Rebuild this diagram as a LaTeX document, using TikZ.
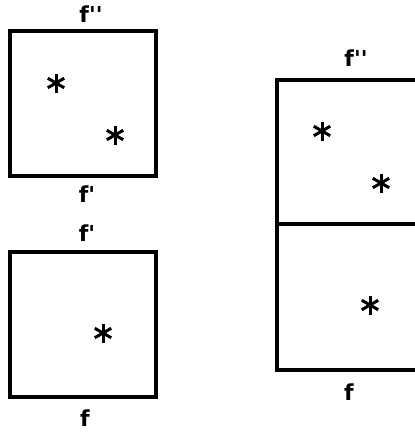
\documentclass[tikz,border=0pt]{standalone}
\usepackage{fontspec}
\newfontfamily\labelfont{DejaVu Sans}
\tikzset{
  face/.style={line width=4.8pt},
  flabel/.style={font=\labelfont\bfseries\fontsize{22}{22}\selectfont, inner sep=0pt},
  spark/.style={line width=3pt}
}
\newcommand\qq{\textquotesingle}
\begin{document}
\begin{tikzpicture}[x=1pt,y=-1pt]
\clip (0,0) rectangle (415,434);
\fill[white] (0,0) rectangle (415,434);
% left column: two separate cells
\draw[face] (10,31) rectangle (156,176) (10,252) rectangle (156,397);
\node[flabel] (topA) at (91,14) {f\qq\qq};
\node[flabel] (botA) at (87,194) {f\qq};
\node[flabel] (topB) at (87,233) {f\qq};
\node[flabel] (botB) at (85,418) {f};
% right column: the cells glued together
\draw[face] (430,80) -- (277,80) -- (277,370) -- (430,370) (277,224) -- (430,224);
\node[flabel] (topC) at (356,58) {f\qq\qq};
\node[flabel] (botC) at (349,392) {f};
% stars
\foreach \x/\y in {56/83, 115/135, 103/333, 322/131, 381/183, 370/305}
  \foreach \a in {90, 30, -30}
    \draw[spark] (\x,\y) ++(\a:9.5) -- ++(\a+180:19);
\end{tikzpicture}
\end{document}
